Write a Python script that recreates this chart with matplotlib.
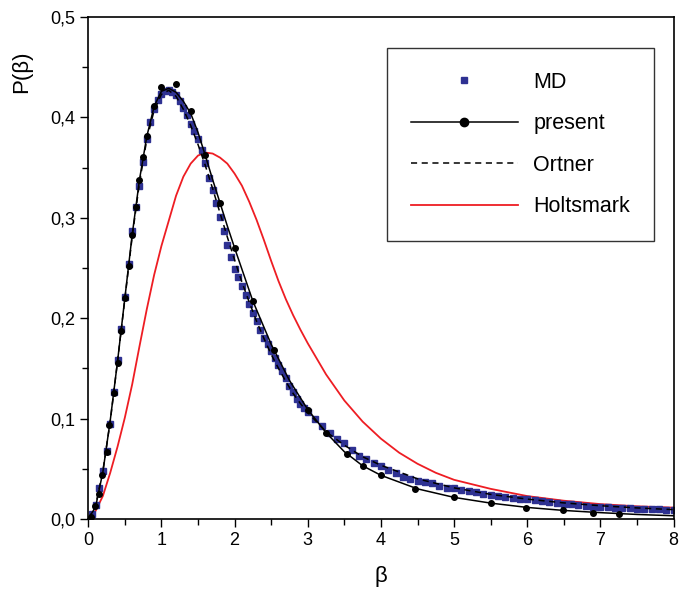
import matplotlib.pyplot as plt
from matplotlib.lines import Line2D
from matplotlib.ticker import MultipleLocator, FuncFormatter

plt.rcParams['font.family'] = ['Liberation Sans', 'DejaVu Sans']

# MD data (squares)
md_beta = [0.05, 0.10, 0.15, 0.20, 0.25, 0.30, 0.35, 0.40, 0.45, 0.50,
           0.55, 0.60, 0.65, 0.70, 0.75, 0.80, 0.85, 0.90, 0.95, 1.00,
           1.05, 1.10, 1.15, 1.20, 1.25, 1.30, 1.35, 1.40, 1.45, 1.50,
           1.55, 1.60, 1.65, 1.70, 1.75, 1.80, 1.85, 1.90, 1.95, 2.00,
           2.05, 2.10, 2.15, 2.20, 2.25, 2.30, 2.35, 2.40, 2.45, 2.50,
           2.55, 2.60, 2.65, 2.70, 2.75, 2.80, 2.85, 2.90, 2.95, 3.00,
           3.1, 3.2, 3.3, 3.4, 3.5, 3.6, 3.7, 3.8, 3.9, 4.0,
           4.1, 4.2, 4.3, 4.4, 4.5, 4.6, 4.7, 4.8, 4.9, 5.0,
           5.1, 5.2, 5.3, 5.4, 5.5, 5.6, 5.7, 5.8, 5.9, 6.0,
           6.1, 6.2, 6.3, 6.4, 6.5, 6.6, 6.7, 6.8, 6.9, 7.0,
           7.1, 7.2, 7.3, 7.4, 7.5, 7.6, 7.7, 7.8, 7.9, 8.0]
md_p = [0.005, 0.014, 0.031, 0.048, 0.068, 0.095, 0.126, 0.158, 0.189, 0.221,
        0.254, 0.287, 0.311, 0.332, 0.356, 0.378, 0.395, 0.408, 0.417, 0.423,
        0.426, 0.427, 0.425, 0.422, 0.416, 0.409, 0.402, 0.393, 0.386, 0.378,
        0.368, 0.355, 0.340, 0.328, 0.315, 0.301, 0.287, 0.273, 0.261, 0.249,
        0.241, 0.232, 0.223, 0.214, 0.205, 0.197, 0.188, 0.180, 0.174, 0.167,
        0.160, 0.153, 0.147, 0.140, 0.132, 0.126, 0.120, 0.115, 0.111, 0.107,
        0.100, 0.093, 0.086, 0.080, 0.0754, 0.069, 0.063, 0.060, 0.056, 0.0528,
        0.049, 0.046, 0.042, 0.040, 0.038, 0.037, 0.036, 0.033, 0.031, 0.0306,
        0.029, 0.028, 0.027, 0.025, 0.024, 0.023, 0.022, 0.021, 0.020, 0.0196,
        0.019, 0.018, 0.017, 0.0158, 0.015, 0.0145, 0.014, 0.013, 0.0123, 0.012,
        0.0117, 0.0113, 0.011, 0.0107, 0.0104, 0.010, 0.0098, 0.0096, 0.0094, 0.0092]

# present theory: curve and computed points
present_beta = [0.0, 0.1, 0.2, 0.3, 0.4, 0.5, 0.6, 0.7, 0.8, 0.9,
                1.0, 1.1, 1.2, 1.3, 1.4, 1.5, 1.6, 1.7, 1.8, 1.9,
                2.0, 2.25, 2.5, 2.75, 3.0, 3.25, 3.5, 3.75, 4.0, 4.5,
                5.0, 5.5, 6.0, 6.5, 7.0, 7.5, 8.0]
present_p = [0.0, 0.012, 0.047, 0.098, 0.157, 0.220, 0.283, 0.338, 0.381, 0.411,
             0.426, 0.429, 0.425, 0.416, 0.404, 0.385, 0.362, 0.338, 0.315, 0.292,
             0.270, 0.217, 0.174, 0.138, 0.109, 0.086, 0.067, 0.053, 0.0435, 0.030,
             0.0215, 0.0158, 0.0115, 0.0085, 0.0063, 0.0045, 0.0032]
dots_beta = [0.04, 0.09, 0.15, 0.19, 0.25, 0.29, 0.35, 0.40, 0.45, 0.50,
             0.55, 0.60, 0.65, 0.70, 0.75, 0.80, 0.90, 1.00, 1.20, 1.40,
             1.60, 1.80, 2.00, 2.25, 2.54, 3.00, 3.25, 3.53, 3.75, 4.00,
             4.46, 5.00, 5.50, 5.98, 6.49, 6.90, 7.25]
dots_p = [0.0015, 0.013, 0.025, 0.044, 0.067, 0.094, 0.125, 0.155, 0.187, 0.220,
          0.252, 0.283, 0.311, 0.338, 0.361, 0.381, 0.411, 0.430, 0.433, 0.406,
          0.363, 0.315, 0.270, 0.217, 0.168, 0.109, 0.086, 0.065, 0.053, 0.044,
          0.030, 0.0216, 0.0156, 0.0113, 0.0087, 0.0063, 0.0047]

# Ortner
ortner_beta = [0.0, 0.1, 0.2, 0.3, 0.4, 0.5, 0.6, 0.7, 0.8, 0.9,
               1.0, 1.1, 1.2, 1.3, 1.4, 1.5, 1.6, 1.7, 1.8, 1.9,
               2.0, 2.1, 2.2, 2.3, 2.4, 2.5, 2.6, 2.7, 2.8, 2.9,
               3.0, 3.25, 3.5, 3.75, 4.0, 4.5, 5.0, 5.5, 6.0, 6.5,
               7.0, 7.5, 8.0]
ortner_p = [0.0, 0.013, 0.048, 0.097, 0.157, 0.219, 0.281, 0.335, 0.378, 0.407,
            0.423, 0.427, 0.421, 0.408, 0.392, 0.373, 0.352, 0.329, 0.305, 0.281,
            0.258, 0.236, 0.216, 0.197, 0.180, 0.164, 0.150, 0.137, 0.125, 0.115,
            0.106, 0.087, 0.0735, 0.062, 0.0535, 0.040, 0.031, 0.0245, 0.0198, 0.016,
            0.0132, 0.011, 0.0093]

# Holtsmark
holts_beta = [0.0, 0.1, 0.2, 0.3, 0.4, 0.5, 0.6, 0.7, 0.8, 0.9,
              1.0, 1.1, 1.2, 1.3, 1.4, 1.5, 1.6, 1.7, 1.8, 1.9,
              2.0, 2.1, 2.2, 2.3, 2.4, 2.5, 2.6, 2.7, 2.8, 2.9,
              3.0, 3.25, 3.5, 3.75, 4.0, 4.25, 4.5, 4.75, 5.0, 5.5,
              6.0, 6.5, 7.0, 7.5, 8.0]
holts_p = [0.0, 0.008, 0.023, 0.046, 0.072, 0.101, 0.134, 0.172, 0.209, 0.243,
           0.272, 0.297, 0.322, 0.341, 0.354, 0.362, 0.365, 0.364, 0.360, 0.354,
           0.344, 0.332, 0.316, 0.298, 0.278, 0.257, 0.237, 0.219, 0.203, 0.1885,
           0.175, 0.144, 0.118, 0.097, 0.080, 0.066, 0.055, 0.046, 0.0390, 0.030,
           0.0228, 0.0182, 0.0148, 0.0126, 0.0113]

fig = plt.figure(figsize=(6.79, 5.99), dpi=100)
ax = fig.add_axes([0.130, 0.1336, 0.862, 0.838])

ax.plot(holts_beta, holts_p, color='#ee1d23', lw=1.3)
ax.plot(md_beta, md_p, ls='none', marker='s', ms=3.8, color='#2e3192')
ax.plot(ortner_beta, ortner_p, color='black', lw=1.1, dashes=(4, 3))
ax.plot(present_beta, present_p, color='black', lw=1.1)
ax.plot(dots_beta, dots_p, ls='none', marker='o', ms=4, color='black')

handles = [
    Line2D([], [], ls='none', marker='s', ms=5, color='#2e3192'),
    Line2D([], [], color='black', lw=1.1, marker='o', ms=6),
    Line2D([], [], color='black', lw=1.1, dashes=(4, 3)),
    Line2D([], [], color='#ee1d23', lw=1.3),
]
labels = ['MD', 'present', 'Ortner', 'Holtsmark']
leg = ax.legend(handles, labels, loc='upper right', bbox_to_anchor=(0.966, 0.938),
                borderaxespad=0, fontsize=15.5, handlelength=5.0, handletextpad=0.7,
                labelspacing=0.95, borderpad=1.1, fancybox=False,
                frameon=True, edgecolor='black', numpoints=1)
leg.get_frame().set_linewidth(1.0)

ax.set_xlim(0, 8)
ax.set_ylim(0, 0.5)
ax.xaxis.set_major_locator(MultipleLocator(1))
ax.xaxis.set_minor_locator(MultipleLocator(0.5))
ax.yaxis.set_major_locator(MultipleLocator(0.1))
ax.yaxis.set_minor_locator(MultipleLocator(0.05))
ax.yaxis.set_major_formatter(FuncFormatter(lambda v, p: f"{v:.1f}".replace('.', ',')))
ax.tick_params(which='both', direction='out', top=False, right=False,
               labelsize=13, width=1.0)
ax.tick_params(which='major', length=6)
ax.tick_params(which='minor', length=4)
for s in ax.spines.values():
    s.set_linewidth(1.2)

ax.set_xlabel('β', fontsize=16, labelpad=12)
ax.set_ylabel('P(β)', fontsize=16)
ax.yaxis.set_label_coords(-0.096, 0.89)

fig.savefig('out.png', dpi=100)
